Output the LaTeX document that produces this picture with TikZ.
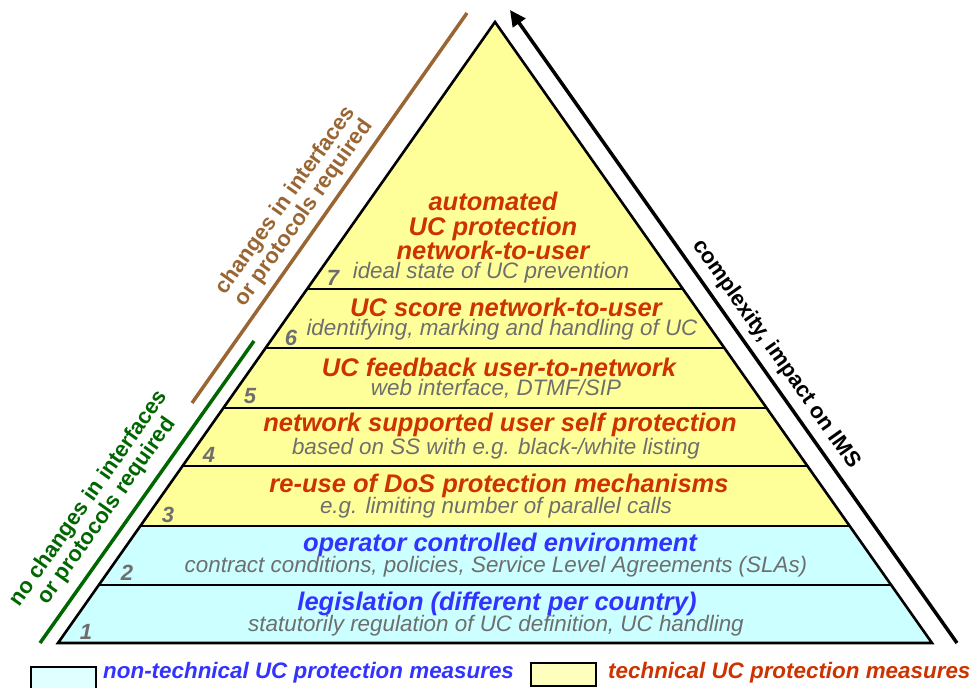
\documentclass[tikz,border=0pt]{standalone}
\usepackage{fontspec}
\setmainfont{Liberation Sans}
\usetikzlibrary{calc,arrows.meta}
\definecolor{ucyellow}{HTML}{FFFF99}
\definecolor{uccyan}{HTML}{CCFFFF}
\definecolor{ucred}{HTML}{CC3300}
\definecolor{ucblue}{HTML}{3333FF}
\definecolor{ucgray}{HTML}{6E6E6E}
\definecolor{ucbrown}{HTML}{996633}
\definecolor{ucgreen}{HTML}{006600}
\tikzset{
  head/.style={font=\fontsize{25.5}{24.5}\selectfont\bfseries\itshape, text=ucred, align=center, inner sep=0pt},
  headblue/.style={head, text=ucblue},
  sub/.style={font=\fontsize{22.4}{24}\selectfont\itshape, text=ucgray, inner sep=0pt},
  num/.style={font=\fontsize{22}{24}\selectfont\bfseries\itshape, text=ucgray, inner sep=0pt},
  side/.style={font=\fontsize{22}{22}\selectfont\bfseries, align=center, inner sep=0pt},
  legtext/.style={font=\fontsize{22.4}{24}\selectfont\bfseries\itshape, anchor=west, inner sep=0pt},
  legbox/.style={draw, line width=2pt}
}

\begin{document}
\begin{tikzpicture}[x=1pt,y=-1pt]
  \useasboundingbox (0,0) rectangle (970,688);
  \coordinate (top) at (495,22);
  \coordinate (bl) at (58,643);
  \coordinate (br) at (932,643);
  % layers
  \fill[ucyellow] (bl) -- (top) -- (br) -- cycle;
  \fill[uccyan] (bl) -- ($(bl)!0.1884!(top)$) -- ($(br)!0.1884!(top)$) -- (br) -- cycle;
  \foreach \t in {0.0934,0.1884,0.285,0.3784,0.475,0.570}
    \draw[line width=2.2pt] ($(bl)!\t!(top)$) -- ($(br)!\t!(top)$);
  \draw[line width=2.6pt, line join=miter] (bl) -- (top) -- (br) -- cycle;

  % side lines
  \coordinate (g1) at (40,643);
  \coordinate (g2) at (254,341);
  \coordinate (b1) at (192,403);
  \coordinate (b2) at (467,13);
  \coordinate (a1) at (957,643);
  \coordinate (a2) at (510,10);
  \draw[ucgreen, line width=3.5pt] (g1) -- (g2);
  \draw[ucbrown, line width=3.5pt] (b1) -- (b2);
  \draw[line width=3.5pt, -{Triangle[length=16pt,width=15pt]}] (a1) -- (a2);
  \node[side, text=ucgreen, rotate=54.8] (nochg) at (98,505) {no changes in interfaces\\or protocols required};
  \node[side, text=ucbrown, rotate=54.8] (chg) at (295,207) {changes in interfaces\\or protocols required};
  \node[side, rotate=-54.8] (cplx) at (776,354) {complexity, impact on IMS};

  % layer 7
  \node[head] (h7) at (493,226) {automated\\UC protection\\network-to-user};
  \node[sub] (s7) at (491,273) {ideal state of UC prevention};
  \node[num] (n7) at (333,278) {7};
  % layer 6
  \node[head] (h6) at (506,307) {UC score network-to-user};
  \node[sub] (s6) at (502,330) {identifying, marking and handling of UC};
  \node[num] (n6) at (291,338) {6};
  % layer 5
  \node[head] (h5) at (499,367) {UC feedback user-to-network};
  \node[sub] (s5) at (496,389) {web interface, DTMF/SIP};
  \node[num] (n5) at (250,396) {5};
  % layer 4
  \node[head] (h4) at (500,425) {network supported user self protection};
  \node[sub] (s4) at (496,449) {based on SS with e.g. black-/white listing};
  \node[num] (n4) at (209,455) {4};
  % layer 3
  \node[head] (h3) at (499,486) {re-use of DoS protection mechanisms};
  \node[sub] (s3) at (496,508) {e.g. limiting number of parallel calls};
  \node[num] (n3) at (168,515) {3};
  % layer 2
  \node[headblue] (h2) at (500,545) {operator controlled environment};
  \node[sub] (s2) at (496,567) {contract conditions, policies, Service Level Agreements (SLAs)};
  \node[num] (n2) at (127,573) {2};
  % layer 1
  \node[headblue] (h1) at (497,604) {legislation (different per country)};
  \node[sub] (s1) at (496,626) {statutorily regulation of UC definition, UC handling};
  \node[num] (n1) at (86,632) {1};

  % legend
  \draw[legbox, fill=uccyan!60!white] (31,667) rectangle (96,694);
  \node[legtext, text=ucblue] (legnt) at (103,673) {non-technical UC protection measures};
  \draw[legbox, fill=ucyellow!65!white] (531,663) rectangle (596,686);
  \node[legtext, text=ucred] (legt) at (608,673) {technical UC protection measures};
\end{tikzpicture}
\end{document}
